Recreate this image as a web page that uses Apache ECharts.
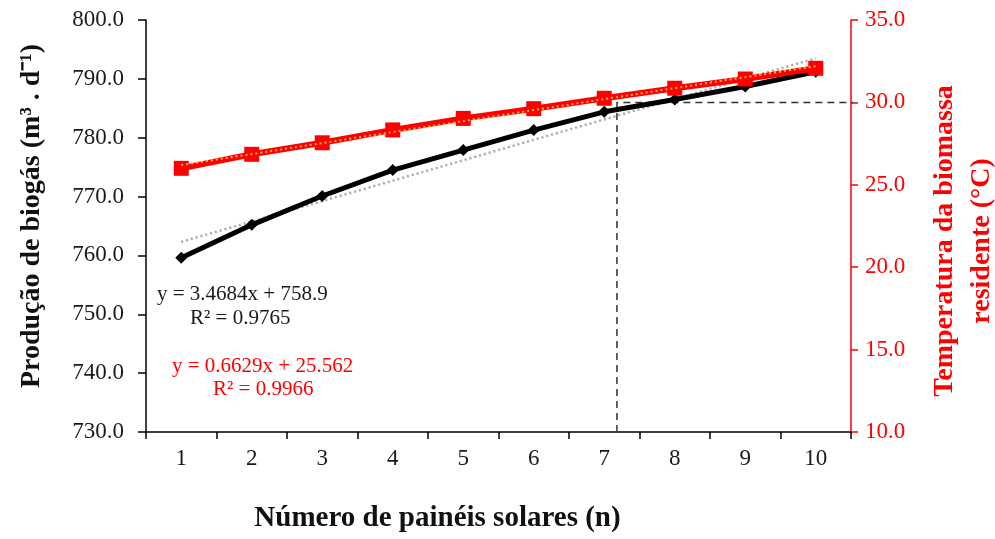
<!DOCTYPE html>
<html>
<head>
<meta charset="utf-8">
<script src="https://cdn.jsdelivr.net/npm/echarts@6/dist/echarts.min.js"></script>
<style>
html,body{margin:0;padding:0;background:#fff;}
#chart{width:995px;height:539px;}
</style>
</head>
<body>
<div id="chart"></div>
<script>
// ---- data ----
var categories = ['1','2','3','4','5','6','7','8','9','10'];
var biogas = [759.6, 765.2, 770.1, 774.5, 777.9, 781.3, 784.4, 786.5, 788.7, 791.2];
var temperature = [26.0, 26.85, 27.55, 28.33, 29.03, 29.62, 30.25, 30.86, 31.42, 32.07];
// trend-line end points (x position, value)
var trendBiogas = [[1, 762.3], [10, 793.5]];
var trendTemp = [[1, 26.2], [10, 32.2]];
// dashed guide (x position, temperature)
var guideLine = [[7.18, 10], [7.18, 29.7], [7.18, 30], [10.6, 30]];
var leftTicks = {min: 730, max: 800, interval: 10};
var rightTicks = {min: 10, max: 35, interval: 5};
var eqBiogas = ['y = 3.4684x + 758.9', 'R² = 0.9765'];
var eqTemp = ['y = 0.6629x + 25.562', 'R² = 0.9966'];

var serif = '"Liberation Serif", "Times New Roman", serif';
var chart = echarts.init(document.getElementById('chart'));
chart.setOption({
  animation: false,
  backgroundColor: '#ffffff',
  grid: {left: 146, right: 144, top: 20, bottom: 107, containLabel: false, outerBoundsMode: 'none'},
  xAxis: [{
    type: 'category',
    data: categories,
    boundaryGap: true,
    axisLine: {lineStyle: {color: '#000', width: 1.5}},
    axisTick: {show: true, inside: false, length: 7, lineStyle: {color: '#000', width: 1.5}},
    axisLabel: {color: '#1a1a1a', fontFamily: serif, fontSize: 23, margin: 15},
    splitLine: {show: false},
    name: 'Número de painéis solares (n)',
    nameLocation: 'middle',
    nameGap: 72,
    nameTextStyle: {fontFamily: serif, fontSize: 29, fontWeight: 'bold', color: '#111', padding: [0, 122, 0, 0]}
  }, {
    type: 'value', min: 0.5, max: 10.5, show: false
  }],
  yAxis: [{
    type: 'value',
    min: leftTicks.min, max: leftTicks.max, interval: leftTicks.interval,
    position: 'left',
    axisLine: {show: true, lineStyle: {color: '#000', width: 1.5}},
    axisTick: {show: true, inside: false, length: 8, lineStyle: {color: '#000', width: 1.5}},
    axisLabel: {color: '#1a1a1a', fontFamily: serif, fontSize: 23, margin: 22,
      formatter: function (v) { return v.toFixed(1); }},
    splitLine: {show: false},
    name: 'Produção de biogás (m³ . d⁻¹)',
    nameLocation: 'middle',
    nameRotate: 90,
    nameGap: 100,
    nameTextStyle: {fontFamily: serif, fontSize: 28, fontWeight: 'bold', color: '#111', padding: [0, 0, 0, 20]}
  }, {
    type: 'value',
    min: rightTicks.min, max: rightTicks.max, interval: rightTicks.interval,
    position: 'right',
    axisLine: {show: true, lineStyle: {color: '#ff0000', width: 1.5}},
    axisTick: {show: true, inside: false, length: 7, lineStyle: {color: '#ff0000', width: 1.5}},
    axisLabel: {color: '#ff0000', fontFamily: serif, fontSize: 23, margin: 14,
      formatter: function (v) { return v.toFixed(1); }},
    splitLine: {show: false},
    name: 'Temperatura da biomassa\nresidente (°C)',
    nameLocation: 'middle',
    nameRotate: 90,
    nameGap: 75,
    nameTextStyle: {fontFamily: serif, fontSize: 28, fontWeight: 'bold', color: '#ff0000', lineHeight: 37, padding: [0, 30, 0, 0]}
  }],
  series: [{
    name: 'guide',
    type: 'line',
    xAxisIndex: 1, yAxisIndex: 1,
    data: guideLine,
    symbol: 'none',
    clip: false,
    silent: true,
    lineStyle: {color: '#333', width: 1.5, type: [7, 5]},
    z: 1
  }, {
    name: 'trend biogas',
    type: 'line',
    xAxisIndex: 1, yAxisIndex: 0,
    data: trendBiogas,
    symbol: 'none',
    clip: false,
    lineStyle: {color: '#a8a8a8', width: 2.5, type: [2, 3]},
    z: 2
  }, {
    name: 'Produção de biogás',
    type: 'line',
    xAxisIndex: 0, yAxisIndex: 0,
    data: biogas,
    symbol: 'diamond',
    symbolSize: 12,
    itemStyle: {color: '#000'},
    lineStyle: {color: '#000', width: 5},
    z: 3
  }, {
    name: 'Temperatura',
    type: 'line',
    xAxisIndex: 0, yAxisIndex: 1,
    data: temperature,
    symbol: 'rect',
    symbolSize: 15,
    itemStyle: {color: '#ff0000'},
    lineStyle: {color: '#ff0000', width: 6},
    z: 4
  }, {
    name: 'trend temp',
    type: 'line',
    xAxisIndex: 1, yAxisIndex: 1,
    data: trendTemp,
    symbol: 'none',
    lineStyle: {color: '#f7b23a', width: 2, type: [2, 3]},
    z: 5
  }],
  graphic: [
    {type: 'text', left: 157, top: 284, style: {text: eqBiogas[0], font: '21px ' + serif, fill: '#1a1a1a'}},
    {type: 'text', left: 190, top: 308, style: {text: eqBiogas[1], font: '21px ' + serif, fill: '#1a1a1a'}},
    {type: 'text', left: 172, top: 356, style: {text: eqTemp[0], font: '21px ' + serif, fill: '#ff0000'}},
    {type: 'text', left: 213, top: 379, style: {text: eqTemp[1], font: '21px ' + serif, fill: '#ff0000'}}
  ]
});
</script>
</body>
</html>
